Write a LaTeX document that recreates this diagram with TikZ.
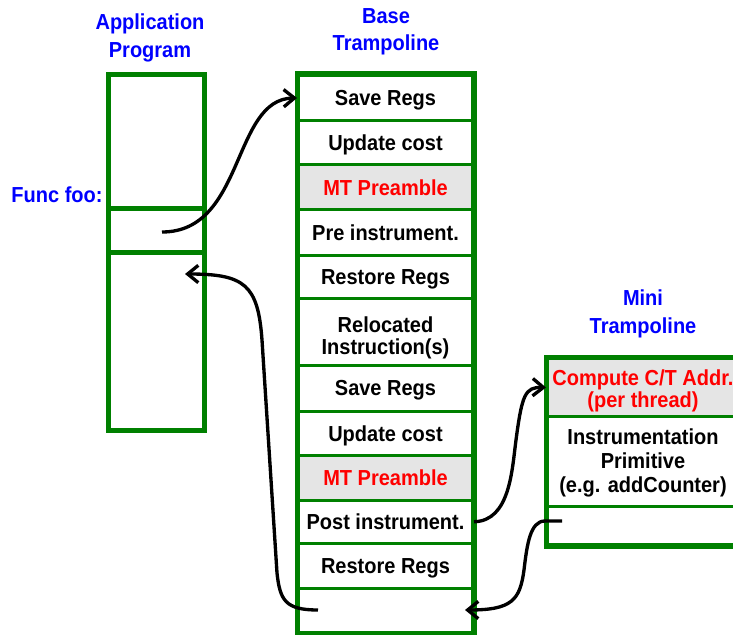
\documentclass[tikz,border=0pt]{standalone}
\usepackage{fontspec}
\setmainfont{Liberation Sans}[FakeStretch=0.92]
\usetikzlibrary{arrows.meta}

\definecolor{boxgreen}{RGB}{0,128,0}
\definecolor{headblue}{RGB}{0,0,255}
\definecolor{mtred}{RGB}{255,0,0}
\definecolor{mtgrey}{RGB}{229,229,229}

\newcommand{\cellfont}{\bfseries\fontsize{16.3}{16.5}\selectfont}

\tikzset{
  celltext/.style={inner sep=0pt, align=center, font=\cellfont},
  basecell/.style={celltext, draw=boxgreen, line width=2.25pt, minimum width=130.5pt, text height=11.7pt, text depth=0pt},
  mtcell/.style={basecell, fill=mtgrey, text=mtred},
  appcell/.style={draw=boxgreen, line width=3.75pt, minimum width=72pt, inner sep=0pt},
  minicell/.style={basecell, minimum width=143.25pt},
  outerframe/.style={draw=boxgreen, line width=3.75pt},
  heading/.style={text=headblue, align=center, font=\bfseries\fontsize{16.3}{20.5}\selectfont},
  flow/.style={line width=2.5pt, -{Straight Barb[length=8pt,width=13pt]}},
}

\begin{document}
\begin{tikzpicture}[x=0.75pt,y=0.75pt,yscale=-1,xscale=1]
\useasboundingbox (0,0) rectangle (733,635);

% Headings
\node[heading] (apptitle) at (150,38) {Application\\Program};
\node[heading] (basetitle) at (386,32) {Base\\Trampoline};
\node[heading] (minititle) at (643,314) {Mini\\Trampoline};
\node[heading] (foolabel) at (57,195) {Func foo:};

%Shape: application program
\node[appcell, minimum height=100.5pt] (appupper) at (156.5,141.5) {};
\node[appcell, minimum height=33pt] (foo) at (156.5,230.5) {};
\node[appcell, minimum height=133.5pt] (applower) at (156.5,341.5) {};

%Shape: base trampoline
\node[basecell, minimum height=33.75pt] (save1) at (385.5,98) {Save Regs};
\node[basecell, minimum height=33.375pt] (cost1) at (385.5,142.75) {Update cost};
\node[mtcell, minimum height=33.75pt] (preamble1) at (385.5,187.5) {MT Preamble};
\node[basecell, minimum height=33.75pt] (preinst) at (385.5,232.5) {Pre instrument.};
\node[basecell, minimum height=32.625pt] (restore1) at (385.5,276.75) {Restore Regs};
\node[basecell, minimum height=49.875pt] (reloc) at (385.5,331.75) {};
\node[celltext] (reloctext) at (385.5,337.5) {Relocated\\Instruction(s)};
\node[basecell, minimum height=34.5pt] (save2) at (385.5,388) {Save Regs};
\node[basecell, minimum height=33.375pt] (cost2) at (385.5,433.25) {Update cost};
\node[mtcell, minimum height=33.375pt] (preamble2) at (385.5,477.75) {MT Preamble};
\node[basecell, minimum height=32.625pt] (postinst) at (385.5,521.75) {Post instrument.};
\node[basecell, minimum height=33.75pt] (restore2) at (385.5,566) {Restore Regs};
\node[basecell, minimum height=32.625pt] (baseexit) at (385.5,610.25) {};
\draw[outerframe] (save1.north west) rectangle (baseexit.south east);

%Shape: mini trampoline
\node[minicell, fill=mtgrey, minimum height=43.5pt] (compute) at (643,387.5) {};
\node[celltext, text=mtred] (computetext) at (643,390.5) {Compute C/T Addr.\\(per thread)};
\node[minicell, minimum height=67.5pt] (primitive) at (643,461.5) {};
\node[celltext, font=\bfseries\fontsize{16.3}{18}\selectfont] (primitivetext) at (643,463) {Instrumentation\\Primitive\\(e.g. addCounter)};
\node[minicell, minimum height=28.5pt] (miniexit) at (643,525.5) {};
\draw[outerframe] (compute.north west) rectangle (miniexit.south east);

% free ends of the arrows
\coordinate (callsrc) at (162,232);
\coordinate (backdst) at (185,274);
\coordinate (backsrc) at (318,610);
\coordinate (minisrc) at (562,521);
\coordinate (minidst) at (465,610);

%Curves
\draw[flow] (callsrc) .. controls (245,232) and (232,99) .. (save1.west);
\draw[flow] (backsrc) .. controls (285,610) and (280,600) .. (277,573) -- (262,340) .. controls (258,285) and (245,274) .. (backdst);
\draw[flow] (postinst.east) .. controls (510,521) and (512,470) .. (516,440) .. controls (522,395) and (525,387) .. (compute.west);
\draw[flow] (minisrc) -- (545,521) .. controls (530,521) and (527,545) .. (524,570) .. controls (520,600) and (512,610) .. (minidst);

\end{tikzpicture}
\end{document}
